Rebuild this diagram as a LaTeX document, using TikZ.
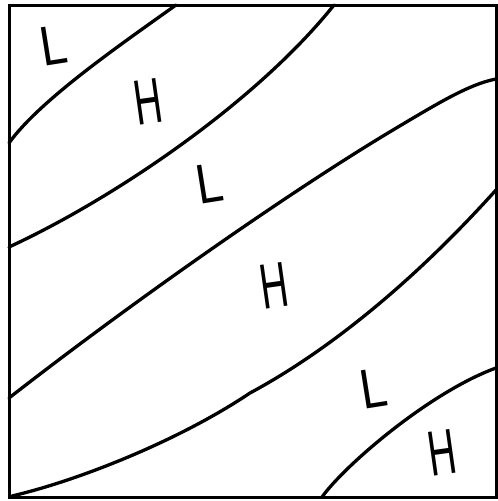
\documentclass[tikz,border=0pt]{standalone}
\usepackage{fontspec}
\setmainfont{Liberation Sans}
\begin{document}
\begin{tikzpicture}[x=1pt,y=-1pt,
  contour/.style={line width=3.3pt, line cap=round, line join=round},
  hlabel/.style={inner sep=0pt, rotate=8, font=\fontsize{64}{64}\selectfont},
  llabel/.style={inner sep=0pt, rotate=9, font=\fontsize{56}{56}\selectfont}]
\useasboundingbox (0,0) rectangle (498,501);
\draw[line width=3pt] (9,5) rectangle (496,497);
\draw[contour] (9,143) .. controls (40,100) and (120,45) .. (176,5);
\draw[contour] (9,247) .. controls (109,201) and (254,105) .. (334,5);
\draw[contour] (9,398) .. controls (140,296) and (300,185) .. (398,127)
                       .. controls (440,102) and (470,84) .. (496,79);
\draw[contour] (12,496) .. controls (80,480) and (180,440) .. (250,393)
                        .. controls (330,350) and (415,280) .. (496,190);
\draw[contour] (322,497) .. controls (345,465) and (430,392) .. (496,368);
\node[llabel] (l1) at (54,45) {\scalebox{0.85}[1]{L}};
\node[hlabel] (h1) at (148,102) {\scalebox{0.6}[1]{H}};
\node[llabel] (l2) at (210,183) {\scalebox{0.85}[1]{L}};
\node[hlabel] (h2) at (274,286) {\scalebox{0.6}[1]{H}};
\node[llabel] (l3) at (374,388) {\scalebox{0.85}[1]{L}};
\node[hlabel] (h3) at (442,453) {\scalebox{0.6}[1]{H}};
\end{tikzpicture}
\end{document}
